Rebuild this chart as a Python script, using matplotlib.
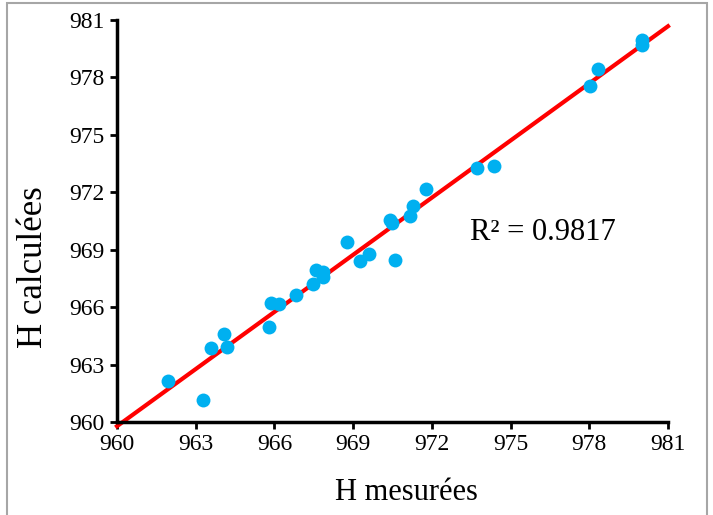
import matplotlib
matplotlib.use("Agg")
import matplotlib.pyplot as plt
import numpy as np
from matplotlib.patches import Rectangle

h_mesurees = [961.94, 963.28, 963.58, 964.08, 964.2, 965.79, 965.87, 966.17, 966.82,
              967.47, 967.58, 967.85, 967.85, 968.76, 969.26, 969.6, 970.6, 970.4,
              970.48, 971.17, 971.28, 971.78, 973.72, 974.37, 978.03, 978.33, 980.0, 980.0]
h_calculees = [962.14, 961.15, 963.87, 964.6, 963.92, 964.96, 966.22, 966.17, 966.64,
               967.2, 967.94, 967.84, 967.58, 969.4, 968.41, 968.78, 968.46, 970.55,
               970.4, 970.76, 971.29, 972.17, 973.27, 973.37, 977.55, 978.44, 979.96, 979.7]
ticks = [960, 963, 966, 969, 972, 975, 978, 981]
r2_text = "R² = 0.9817"

plt.rcParams['font.family'] = ['Liberation Serif', 'DejaVu Serif']

fig = plt.figure(figsize=(7.13, 5.15), dpi=100)
ax = fig.add_axes([117/713, 1-422/515, (668-117)/713, (422-20)/515])

ax.scatter(h_mesurees, h_calculees, s=100, color='#00B0F0', zorder=3, linewidths=0)

coef = np.polyfit(h_mesurees, h_calculees, 1)
xl = np.array([960, 981])
ax.plot(xl, np.polyval(coef, xl), color='#FF0000', lw=3, zorder=2, clip_on=False)

ax.set_xlim(960, 981)
ax.set_ylim(960, 981)
ax.set_xticks(ticks)
ax.set_yticks(ticks)
ax.tick_params(direction='out', length=5, width=2, labelsize=17, pad=4, colors='black')
for s in ['top', 'right']:
    ax.spines[s].set_visible(False)
for s in ['left', 'bottom']:
    ax.spines[s].set_linewidth(2.5)

ax.set_xlabel("H mesurées", fontsize=22)
ax.xaxis.set_label_coords(0.525, -0.14)
ax.set_ylabel("H calculées", fontsize=25)
ax.yaxis.set_label_coords(-0.122, 0.386)
ax.text(973.45, 969.9, r2_text, fontsize=22, va='center', ha='left')

fig.patches.append(Rectangle((7/713, -0.05), 700/713, 1.05 - 3/515, transform=fig.transFigure,
                             fill=False, edgecolor='#A6A6A6', lw=1.5))

fig.savefig("out.png", dpi=100)
